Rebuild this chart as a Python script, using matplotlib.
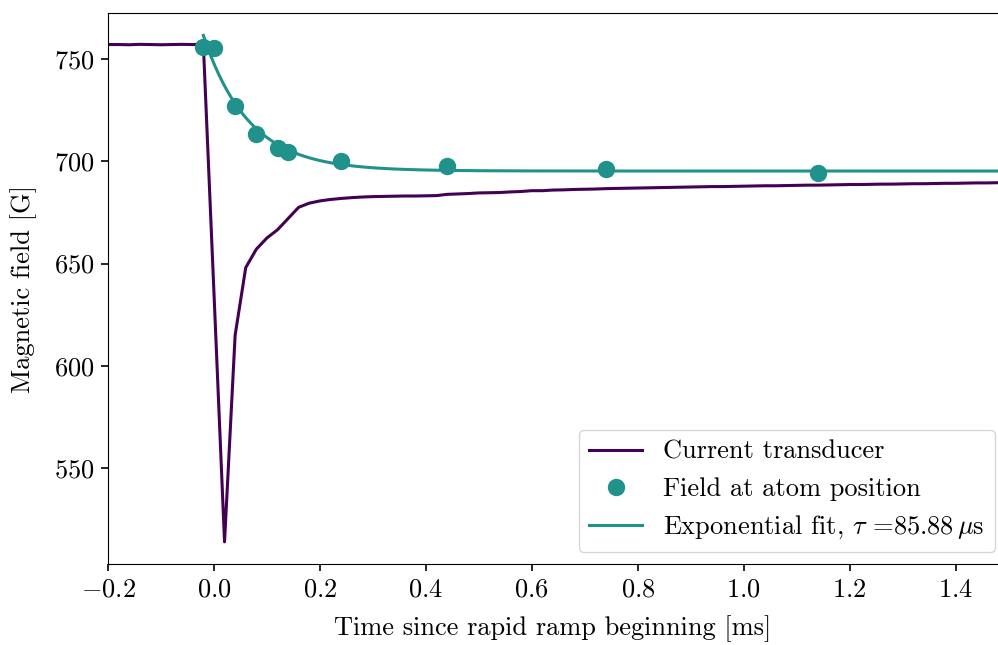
import numpy as np
import matplotlib
matplotlib.use("Agg")
import matplotlib.pyplot as plt

plt.rcParams['font.family'] = ['cmr10', 'DejaVu Serif']
plt.rcParams['mathtext.fontset'] = 'cm'
plt.rcParams['axes.formatter.use_mathtext'] = True
plt.rcParams['font.size'] = 19

# current transducer trace, sampled every 0.02 ms from -0.2 ms
transducer_t = np.round(np.arange(-0.20, 1.49, 0.02), 2)
transducer_b = [
    757.0, 757.0, 756.9, 757.1, 757.0, 756.9, 757.0, 757.1, 757.0, 757.2,
    636.0, 514.0, 615.0, 648.0, 657.0, 662.5, 666.5, 672.0, 677.5, 679.5,
    680.6, 681.3, 681.8, 682.2, 682.5, 682.7, 682.8, 682.9, 683.0, 683.0,
    683.1, 683.2, 683.8, 684.0, 684.2, 684.5, 684.6, 684.7, 685.0, 685.2,
    685.6, 685.6, 685.9, 686.0, 686.2, 686.3, 686.4, 686.6, 686.7, 686.8,
    686.9, 687.0, 687.1, 687.2, 687.3, 687.4, 687.5, 687.6, 687.6, 687.7,
    687.8, 687.9, 688.0, 688.0, 688.1, 688.2, 688.3, 688.3, 688.4, 688.5,
    688.6, 688.6, 688.7, 688.8, 688.8, 688.9, 689.0, 689.0, 689.1, 689.2,
    689.2, 689.3, 689.4, 689.4, 689.5,
]

# field measured at the atoms
atom_t = [-0.02, 0.0, 0.04, 0.08, 0.12, 0.14, 0.24, 0.44, 0.74, 1.14]
atom_b = [755.7, 755.4, 727.2, 713.4, 706.3, 704.4, 700.3, 697.9, 696.0, 694.1]

# exponential fit parameters
tau = 0.08588  # ms
fit_amp = 52.5
fit_offset = 695.2
fit_t = np.linspace(-0.02, 1.48, 400)
fit_b = fit_offset + fit_amp * np.exp(-fit_t / tau)

purple = '#440154'
teal = '#21918c'

fig = plt.figure(figsize=(9.98, 6.45), dpi=100)
ax = fig.add_axes([0.1082, 0.1256, 0.8918, 0.8542])

ax.plot(transducer_t, transducer_b, color=purple, lw=2.2, label='Current transducer')
ax.plot(atom_t, atom_b, 'o', color=teal, ms=11.5, label='Field at atom position')
ax.plot(fit_t, fit_b, color=teal, lw=2.2,
        label=r'Exponential fit, $\tau$ =85.88$\,\mu$s')

ax.set_xlim(-0.2, 1.48)
ax.set_ylim(503.2, 772.4)
ax.set_xticks([-0.2, 0.0, 0.2, 0.4, 0.6, 0.8, 1.0, 1.2, 1.4])
ax.set_yticks([550, 600, 650, 700, 750])
ax.spines['right'].set_visible(False)
ax.tick_params(direction='out', length=5, width=1.2, pad=5)

ax.set_xlabel('Time since rapid ramp beginning [ms]', labelpad=10)
ax.set_ylabel('Magnetic field [G]', labelpad=12)

leg = ax.legend(loc='lower right', fontsize=19, borderaxespad=0,
                bbox_to_anchor=(0.9966, 0.022))
leg.get_frame().set_edgecolor('#cccccc')

fig.savefig('out.png', dpi=100)
